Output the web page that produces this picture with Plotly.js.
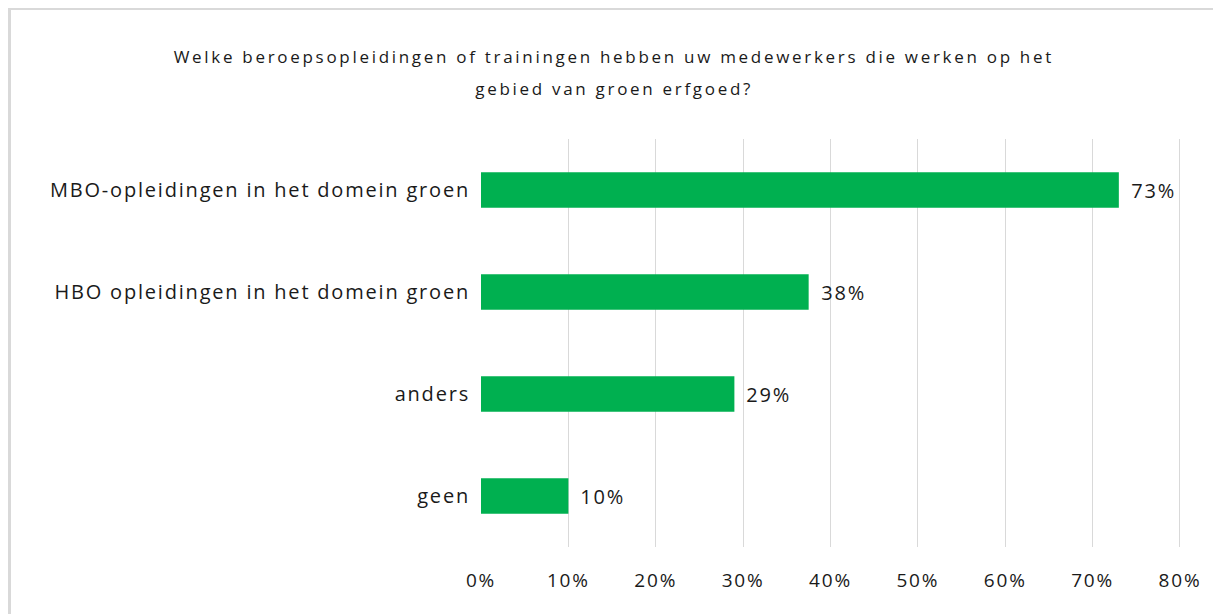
<!DOCTYPE html>
<html>
<head>
<meta charset="utf-8">
<script src="https://cdn.plot.ly/plotly-3.0.1.min.js"></script>
<style>
  html, body { margin: 0; padding: 0; background: #fff; overflow: hidden; }
  #wrap { position: relative; width: 1213px; height: 614px; }
  #frame { position: absolute; left: 8px; top: 8px; right: -10px; bottom: -10px;
           border-left: 3px solid #d9d9d9; border-top: 2px solid #d9d9d9; pointer-events: none; }
  #chart { position: absolute; left: 0; top: 0; width: 1213px; height: 614px; }
  /* de tekst in het origineel loopt breder uit */
  #chart text { letter-spacing: 1.8px; }
  #chart .annotation-text.titel { letter-spacing: 2.7px; }
</style>
</head>
<body>
<div id="wrap">
  <div id="chart"></div>
  <div id="frame"></div>
</div>
<script>
// categorieen (van boven naar beneden) en percentages
var categorieen = ['MBO-opleidingen in het domein groen', 'HBO opleidingen in het domein groen', 'anders', 'geen'];
var waarden = [73, 37.5, 29, 10];
var labels = ['73%', '38%', '29%', '10%'];
var tickWaarden = [0, 10, 20, 30, 40, 50, 60, 70, 80];
var tickTekst = ['0%', '10%', '20%', '30%', '40%', '50%', '60%', '70%', '80%'];
var titelRegels = ['Welke beroepsopleidingen of trainingen hebben uw medewerkers die werken op het',
                   'gebied van groen erfgoed?'];

var FONT = 'Open Sans, Noto Sans, sans-serif';
var KLEUR = '#1a1a1a';

var trace = {
  type: 'bar',
  orientation: 'h',
  x: waarden,
  y: categorieen,
  marker: { color: '#00b050' },
  hoverinfo: 'none'
};

// labels rechts naast de balken
var annotaties = waarden.map(function (v, i) {
  return {
    x: v, y: categorieen[i], xref: 'x', yref: 'y',
    text: labels[i], showarrow: false,
    xanchor: 'left', xshift: 13,
    font: { family: FONT, size: 20, color: KLEUR }
  };
});

// titel in twee regels (ruimere regelafstand dan layout.title toelaat)
var titelY = [1.201, 1.125];
titelRegels.forEach(function (t, i) {
  annotaties.push({
    x: (614 - 481) / 699, y: titelY[i], xref: 'paper', yref: 'paper',
    text: t, showarrow: false, xanchor: 'center', yanchor: 'middle',
    font: { family: FONT, size: 17, color: KLEUR }
  });
});

var layout = {
  width: 1213,
  height: 614,
  margin: { l: 481, r: 33, t: 139, b: 67 },
  paper_bgcolor: 'rgba(0,0,0,0)',
  plot_bgcolor: '#fff',
  showlegend: false,
  bargap: 0.65,
  font: { family: FONT, size: 20, color: KLEUR },
  xaxis: {
    range: [0, 80],
    tickvals: tickWaarden,
    ticktext: tickTekst,
    showgrid: true,
    gridcolor: '#d9d9d9',
    gridwidth: 1,
    zeroline: false,
    showline: false,
    ticks: '',
    ticklabelstandoff: 20,
    tickfont: { family: FONT, size: 19, color: KLEUR },
    fixedrange: true
  },
  yaxis: {
    autorange: 'reversed',
    showgrid: false,
    zeroline: false,
    showline: false,
    ticks: '',
    ticklabelstandoff: 10,
    tickfont: { family: FONT, size: 20, color: KLEUR },
    fixedrange: true
  },
  // rechterrand van het plotgebied is iets dikker
  shapes: [{
    type: 'line', xref: 'x', yref: 'paper',
    x0: tickWaarden[tickWaarden.length - 1], x1: tickWaarden[tickWaarden.length - 1], y0: 0, y1: 1,
    line: { color: '#d9d9d9', width: 2 }
  }],
  annotations: annotaties
};

Plotly.newPlot('chart', [trace], layout, { displayModeBar: false, staticPlot: true }).then(function () {
  // titelregels iets ruimer spatieeren
  var teksten = document.querySelectorAll('#chart .annotation-text');
  teksten.forEach(function (el) {
    if (titelRegels.indexOf(el.textContent) >= 0) el.classList.add('titel');
  });
});
</script>
</body>
</html>
